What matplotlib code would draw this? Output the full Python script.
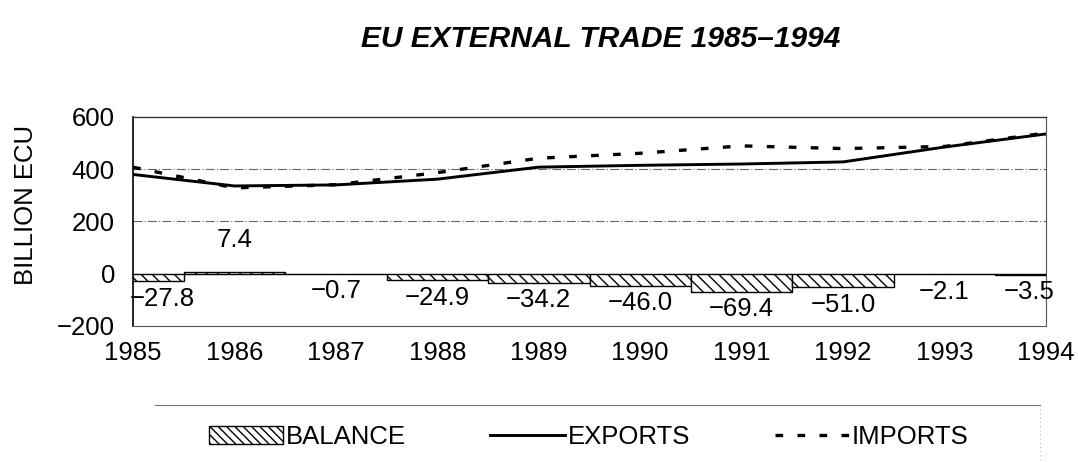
import numpy as np
import matplotlib
matplotlib.use('Agg')
import matplotlib.pyplot as plt
from matplotlib.patches import Patch
from matplotlib.lines import Line2D

plt.rcParams['font.family'] = ['Liberation Sans', 'DejaVu Sans']
plt.rcParams['hatch.linewidth'] = 1.0

# data (billion ECU)
years = [1985, 1986, 1987, 1988, 1989, 1990, 1991, 1992, 1993, 1994]
exports = [380, 336, 340, 362, 408, 415, 420, 428, 485, 535]
imports = [407.8, 328.6, 340.7, 386.9, 442.2, 461.0, 489.4, 479.0, 487.1, 538.5]
balance = [-27.8, 7.4, -0.7, -24.9, -34.2, -46.0, -69.4, -51.0, -2.1, -3.5]
balance_labels = ['\u221227.8', '7.4', '\u22120.7', '\u221224.9', '\u221234.2',
                  '\u221246.0', '\u221269.4', '\u221251.0', '\u22122.1', '\u22123.5']
yticks = [-200, 0, 200, 400, 600]

FS = 18.5

fig = plt.figure(figsize=(10.78, 4.62), dpi=100)
ax = fig.add_axes([0.1234, 0.2944, 0.8469, 0.4524])

# balance bars
ax.bar(years, balance, width=1.0, color='white', edgecolor='black',
       hatch='\\\\\\', linewidth=1.0, zorder=2)
ax.plot(years, exports, color='black', lw=2.1, zorder=3)
ax.plot(years, imports, color='black', lw=2.4, dashes=(2.3, 4.3), zorder=3)

# bar labels
for i, (yr, v, lab) in enumerate(zip(years, balance, balance_labels)):
    dx = 0
    if i == 0:
        dx = 21
    elif i == len(years) - 1:
        dx = -12
    if v >= 0:
        ax.annotate(lab, (yr, v), xytext=(dx, 14), textcoords='offset points',
                    ha='center', va='bottom', fontsize=FS)
    else:
        ax.annotate(lab, (yr, v), xytext=(dx, -4), textcoords='offset points',
                    ha='center', va='top', fontsize=FS)

ax.set_xlim(1985, 1994)
ax.set_ylim(-200, 600)
ax.set_yticks(yticks)
ax.set_yticklabels([str(t).replace('-', '\u2212') for t in yticks], fontsize=FS)
ax.set_xticks(years)
ax.set_xticklabels([str(y) for y in years], fontsize=FS)
ax.tick_params(axis='x', length=0, pad=11)
ax.tick_params(axis='y', length=0, pad=13)

for t in [0, 200, 400]:
    ax.axhline(t, color='#666666', lw=0.8, ls=(0, (8, 2, 1, 2)), zorder=1)

ax.spines['top'].set_color('#333333')
ax.spines['top'].set_linewidth(1.0)
ax.spines['left'].set_color('black')
ax.spines['left'].set_linewidth(1.2)
ax.spines['bottom'].set_color('#555555')
ax.spines['bottom'].set_linestyle((0, (2, 1)))
ax.spines['bottom'].set_linewidth(0.8)
ax.spines['right'].set_color('#555555')
ax.spines['right'].set_linestyle((0, (1, 1)))
ax.spines['right'].set_linewidth(0.8)

fig.text(0.024, 0.556, 'BILLION ECU', fontsize=FS, rotation=90,
         ha='center', va='center')

fig.text(0.557, 0.915, 'EU EXTERNAL TRADE 1985\u20131994', fontsize=21.5,
         fontweight='bold', fontstyle='italic', ha='center', va='center')

# legend
handles = [Patch(facecolor='white', edgecolor='black', hatch='\\\\\\\\', lw=1.0),
           Line2D([], [], color='black', lw=2.1),
           Line2D([], [], color='black', lw=2.4, dashes=(2.3, 4.3))]
fig.legend(handles, ['BALANCE', 'EXPORTS', 'IMPORTS'], loc='center',
           bbox_to_anchor=(0.546, 0.054), ncol=3, frameon=False, fontsize=FS,
           handlelength=2.9, handleheight=0.7, handletextpad=0.1,
           columnspacing=3.3)
fig.add_artist(Line2D([0.144, 0.965], [0.123, 0.123], color='#777777', lw=0.8,
                      transform=fig.transFigure))
fig.add_artist(Line2D([0.965, 0.965], [0.123, 0.0], color='#999999', lw=0.6,
                      ls=(0, (1, 4)), transform=fig.transFigure))

fig.savefig('out.png', dpi=100)
